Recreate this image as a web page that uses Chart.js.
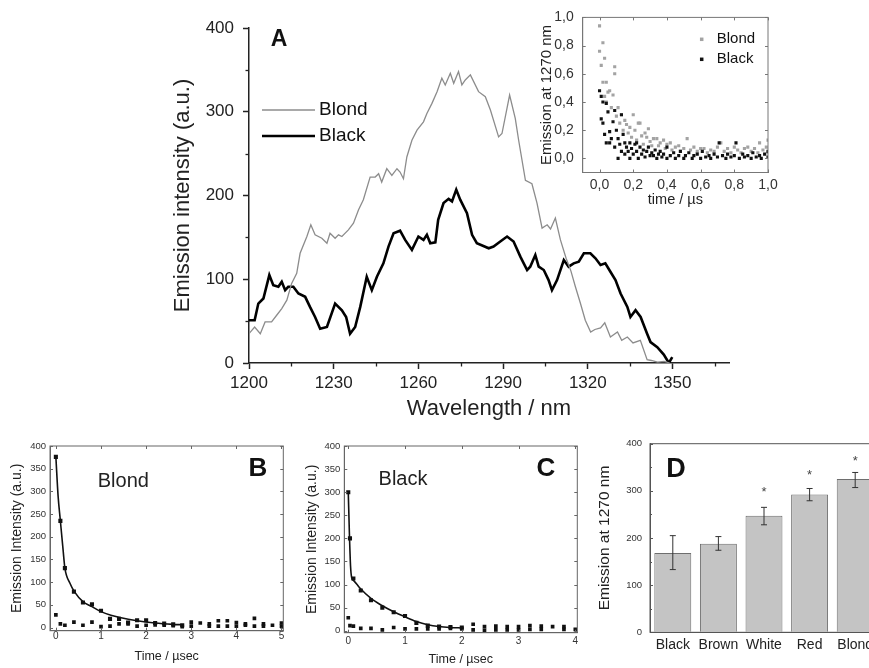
<!DOCTYPE html>
<html><head><meta charset="utf-8">
<script src="https://cdn.jsdelivr.net/npm/chart.js@4.4.1/dist/chart.umd.min.js"></script>
<style>
html,body{margin:0;padding:0;background:#fff;}
body{width:869px;height:668px;overflow:hidden;position:relative;}
canvas{position:absolute;}
</style></head><body>
<canvas id="cA" width="620" height="430" style="left:140px;top:0px"></canvas>
<canvas id="cIn" width="270" height="210" style="left:520px;top:0px"></canvas>
<canvas id="cB" width="300" height="238" style="left:0px;top:430px"></canvas>
<canvas id="cC" width="300" height="238" style="left:295px;top:430px"></canvas>
<canvas id="cD" width="300" height="238" style="left:585px;top:430px"></canvas>
<script>
// ---------- DATA ----------
// Panel A: emission spectra [wavelength nm, intensity a.u.]
const blondSpectrum = [[1200,35],[1202,43],[1204,35],[1205.7,49],[1208,49],[1209.8,57],[1211.6,65],[1213.4,75],[1215.1,95],[1216.9,107],[1218.1,131],[1220.5,151],[1221.9,165],[1223.4,153],[1225.8,149],[1227.6,143],[1228.7,155],[1230.5,149],[1231.7,153],[1232.9,151],[1235.2,159],[1237,167],[1238.8,183],[1240.5,195],[1242.9,222],[1244.7,222],[1245.9,226],[1247,216],[1248.8,232],[1250.6,224],[1252.4,232],[1253.5,228],[1254.7,220],[1255.9,246],[1257.7,266],[1259.5,278],[1261.8,288],[1263,298],[1264.8,310],[1266.6,324],[1268.3,340],[1269.5,332],[1271.3,346],[1272.5,334],[1274.2,348],[1275.4,332],[1276.6,338],[1278.4,344],[1281.3,324],[1283.7,318],[1285.5,302],[1288.4,270],[1289.6,274],[1292.3,320],[1294.3,292],[1295.5,266],[1297.9,218],[1300.2,214],[1302,191],[1303.8,161],[1305.6,165],[1306.8,160],[1308.5,173],[1310.3,147],[1312.3,125],[1314,110],[1315.6,91],[1317.4,71],[1319.1,51],[1321,37],[1322.5,40],[1324.5,42],[1326,48],[1328,31],[1330.5,37],[1332,27],[1334,31],[1336,24],[1338.6,27],[1341,4],[1342.5,3],[1344.7,1],[1347,2],[1349,0]];
const blackSpectrum = [[1200,51],[1202,51],[1203.3,71],[1205.1,77],[1207.2,105],[1208.6,93],[1210.4,91],[1211.6,97],[1212.8,87],[1213.9,91],[1215.7,91],[1217.5,83],[1219.9,79],[1221.6,67],[1223.4,55],[1225.2,41],[1227.6,43],[1230.5,71],[1232.9,63],[1234.4,55],[1235.8,35],[1237.6,43],[1239.4,67],[1241.7,103],[1243.5,87],[1245.3,103],[1247.6,119],[1249.4,139],[1251.2,155],[1253.5,158],[1255.3,147],[1257.7,135],[1260,151],[1261.8,147],[1263,153],[1264.2,143],[1266,144],[1267,171],[1268.9,191],[1270.7,196],[1271.9,193],[1273.4,207],[1274.8,195],[1277.2,179],[1279,153],[1280.7,143],[1284.9,137],[1286.6,139],[1289,145],[1291.4,151],[1293.7,145],[1296.1,127],[1297.3,119],[1298.5,111],[1299.6,115],[1301.4,129],[1302.6,115],[1304.4,111],[1306.1,99],[1307.3,87],[1309.1,99],[1311.5,123],[1313.2,115],[1315,119],[1316.8,121],[1318.6,131],[1320.9,131],[1322.7,125],[1324.5,117],[1326.2,119],[1328,109],[1329.8,99],[1331.6,83],[1334,67],[1335.1,55],[1336.9,63],[1338.7,55],[1341,35],[1342.2,25],[1344.6,19],[1346.9,10],[1348.7,0],[1349.9,7]];
const aXTicks = [1200,1230,1260,1290,1320,1350];
const aXMinor = [1215,1245,1275,1305,1335,1365];
const aYTicks = [0,100,200,300,400];
const aYMinor = [50,150,250,350];

// Inset: normalized emission at 1270 nm vs time (µs)
const insetBlond = [[0,0.94],[0,0.76],[0.01,0.66],[0.02,0.82],[0.02,0.54],[0.03,0.71],[0.03,0.44],[0.04,0.54],[0.04,0.40],[0.05,0.47],[0.06,0.48],[0.07,0.36],[0.08,0.45],[0.09,0.65],[0.09,0.60],[0.10,0.30],[0.11,0.36],[0.12,0.25],[0.13,0.31],[0.14,0.20],[0.15,0.27],[0.16,0.24],[0.17,0.18],[0.18,0.22],[0.19,0.15],[0.20,0.31],[0.21,0.20],[0.22,0.13],[0.23,0.25],[0.24,0.25],[0.25,0.16],[0.26,0.10],[0.27,0.18],[0.28,0.15],[0.29,0.21],[0.30,0.12],[0.31,0.09],[0.32,0.14],[0.34,0.14],[0.35,0.09],[0.36,0.11],[0.38,0.13],[0.39,0.07],[0.40,0.10],[0.42,0.11],[0.43,0.06],[0.45,0.08],[0.47,0.09],[0.48,0.05],[0.50,0.07],[0.52,0.14],[0.54,0.06],[0.56,0.08],[0.58,0.05],[0.60,0.07],[0.62,0.07],[0.64,0.04],[0.66,0.06],[0.68,0.05],[0.70,0.08],[0.72,0.11],[0.74,0.05],[0.76,0.07],[0.78,0.04],[0.80,0.08],[0.82,0.06],[0.84,0.04],[0.86,0.07],[0.88,0.08],[0.90,0.05],[0.92,0.07],[0.94,0.04],[0.95,0.11],[0.97,0.06],[0.99,0.08],[1.00,0.13],[1.00,0.04]];
const insetBlack = [[0,0.48],[0.01,0.44],[0.01,0.28],[0.02,0.25],[0.02,0.40],[0.03,0.17],[0.04,0.39],[0.04,0.11],[0.05,0.33],[0.06,0.19],[0.06,0.11],[0.07,0.14],[0.08,0.26],[0.09,0.34],[0.09,0.08],[0.10,0.20],[0.11,0.14],[0.11,0],[0.12,0.10],[0.13,0.31],[0.13,0.05],[0.14,0.17],[0.15,0.11],[0.15,0.03],[0.16,0.08],[0.17,0.05],[0.18,0],[0.18,0.11],[0.19,0.07],[0.20,0.03],[0.21,0.10],[0.22,0.11],[0.22,0.05],[0.23,0],[0.24,0.08],[0.25,0.03],[0.26,0.06],[0.27,0.01],[0.28,0.05],[0.29,0.08],[0.30,0.02],[0.31,0.04],[0.32,0.02],[0.33,0.06],[0.34,0],[0.35,0.03],[0.36,0.05],[0.37,0.01],[0.38,0.03],[0.40,0.08],[0.40,0],[0.42,0.02],[0.44,0.04],[0.45,0],[0.47,0.02],[0.48,0.05],[0.50,0],[0.51,0.02],[0.53,0.04],[0.55,0],[0.56,0.02],[0.58,0.03],[0.60,0],[0.61,0.05],[0.63,0.01],[0.65,0.02],[0.66,0],[0.68,0.03],[0.70,0.01],[0.71,0.11],[0.73,0.02],[0.75,0],[0.76,0.03],[0.78,0.01],[0.80,0.02],[0.81,0.11],[0.83,0],[0.85,0.03],[0.86,0.01],[0.88,0.02],[0.90,0],[0.91,0.04],[0.93,0.01],[0.95,0.02],[0.96,0],[0.98,0.03],[1.00,0.01],[1.00,0.05]];
const insetTicks = [0,0.2,0.4,0.6,0.8,1.0];

// Panel B: Blond decay (time µs, intensity)
const bDecay = [[0,376],[0.1,235],[0.2,131],[0.4,79],[0.6,55],[0.8,51],[1.0,37],[1.2,19],[1.4,19],[1.6,11],[1.8,16],[2.0,16],[2.2,10],[2.4,9],[2.6,7],[2.8,5]];
const bFit = [[0,376],[0.05,289],[0.1,235],[0.16,171],[0.2,131],[0.31,98],[0.41,79],[0.6,57],[0.8,46],[1.0,35],[1.22,27],[1.42,22],[1.8,15],[2.2,10],[2.6,7],[2.8,6]];
const bBackground = [[0,28],[0.1,8],[0.2,5],[0.4,12],[0.6,5],[0.8,12],[1.0,2],[1.2,3],[1.4,8],[1.6,8],[1.8,3],[2.0,5],[2.2,6],[2.4,5],[2.6,4],[2.8,2],[3.0,12],[3.0,3],[3.2,10],[3.4,8],[3.4,3],[3.6,15],[3.6,3],[3.8,15],[3.8,3],[4.0,11],[4.0,3],[4.2,8],[4.2,5],[4.4,20],[4.4,3],[4.6,8],[4.6,3],[4.8,5],[5.0,10],[5.0,3]];
const bXTicks = [0,1,2,3,4,5];
// Panel C: Black decay
const cDecay = [[0,300],[0.03,200],[0.09,113],[0.22,87],[0.4,66],[0.6,50],[0.8,40],[1.0,32],[1.2,17],[1.4,11],[1.6,9],[1.8,8],[2.0,7]];
const cFit = [[0,300],[0.02,210],[0.04,140],[0.06,115],[0.1,108],[0.2,93],[0.4,70],[0.6,54],[0.8,41],[1.0,30],[1.2,20],[1.4,13],[1.6,9],[1.8,7],[2.0,6]];
const cBackground = [[0,28],[0.03,11],[0.09,10],[0.22,5],[0.4,5],[0.6,2],[0.8,7],[1.0,4],[1.2,4],[1.4,4],[1.6,4],[1.8,5],[2.0,4],[2.2,14],[2.2,2],[2.4,9],[2.4,1],[2.6,10],[2.6,2],[2.8,9],[2.8,2],[3.0,9],[3.0,2],[3.2,11],[3.2,3],[3.4,10],[3.4,3],[3.6,9],[3.8,9],[3.8,3],[4.0,3]];
const cXTicks = [0,1,2,3,4];
const decayYTicks = [0,50,100,150,200,250,300,350,400];
// Panel D: emission at 1270 nm per hair colour
const hairColours = ['Black','Brown','White','Red','Blond'];
const emission1270 = [168,188,247,292,325];
const errLow = [133,174,228,279,307];
const errHigh = [205,203,265,305,339];
const starLevel = [null,null,304,339,369];
const dYTicks = [0,100,200,300,400];
const dYMinor = [50,150,250,350];

// ---------- HELPERS ----------
const FONT = "'Liberation Sans', Arial, Helvetica, sans-serif";
Chart.defaults.font.family = FONT;
Chart.defaults.color = '#222';
Chart.defaults.animation = false;
Chart.defaults.responsive = false;
Chart.defaults.devicePixelRatio = 1;
Chart.defaults.plugins.legend.display = false;
Chart.defaults.plugins.tooltip.enabled = false;

const pts = arr => arr.map(p => ({x: p[0], y: p[1]}));
const fixTicks = vals => s => { s.ticks = vals.map(v => ({value: v})); };
const fixW = w => s => { s.width = w; };
const fixH = h => s => { s.height = h; };
const plain = v => String(v);
const comma = v => v.toFixed(1).replace('.', ',');

const decor = {
  id: 'decor',
  afterDatasetsDraw(chart, args, o) {
    const ctx = chart.ctx, a = chart.chartArea;
    ctx.save();
    if (o.box) {
      ctx.strokeStyle = o.box.color; ctx.lineWidth = o.box.width;
      ctx.strokeRect(a.left, a.top, a.right - a.left, a.bottom - a.top);
    }
    (o.ticks || []).forEach(t => {
      const s = chart.scales[t.axis];
      ctx.strokeStyle = t.color || '#222'; ctx.lineWidth = t.width || 1;
      const sg = t.dir === 'in' ? 1 : -1;
      t.values.forEach(v => {
        const p = Math.round(s.getPixelForValue(v)) + 0.5;
        ctx.beginPath();
        if (t.side === 'bottom') { ctx.moveTo(p, a.bottom); ctx.lineTo(p, a.bottom - sg * t.len); }
        else if (t.side === 'top') { ctx.moveTo(p, a.top); ctx.lineTo(p, a.top + sg * t.len); }
        else if (t.side === 'left') { ctx.moveTo(a.left, p); ctx.lineTo(a.left + sg * t.len, p); }
        else { ctx.moveTo(a.right, p); ctx.lineTo(a.right - sg * t.len, p); }
        ctx.stroke();
      });
    });
    if (o.errors) {
      const meta = chart.getDatasetMeta(0), ys = chart.scales.y, e = o.errors;
      ctx.strokeStyle = '#333'; ctx.lineWidth = 1;
      e.low.forEach((lo, i) => {
        const x = meta.data[i].x, y1 = ys.getPixelForValue(lo), y2 = ys.getPixelForValue(e.high[i]);
        ctx.beginPath();
        ctx.moveTo(x, y1); ctx.lineTo(x, y2);
        ctx.moveTo(x - 3, y1); ctx.lineTo(x + 3, y1);
        ctx.moveTo(x - 3, y2); ctx.lineTo(x + 3, y2);
        ctx.stroke();
        if (e.stars[i] != null) {
          ctx.fillStyle = '#444'; ctx.font = '13px ' + FONT; ctx.textAlign = 'center'; ctx.textBaseline = 'middle';
          ctx.fillText('*', x, ys.getPixelForValue(e.stars[i]) + 3);
        }
      });
    }
    if (o.legend) {
      const L = o.legend;
      chart.data.datasets.forEach((ds, i) => {
        const y = L.y + i * L.gap;
        if (L.type === 'line') {
          ctx.strokeStyle = ds.borderColor; ctx.lineWidth = ds.borderWidth;
          ctx.beginPath(); ctx.moveTo(L.x, y); ctx.lineTo(L.x + L.len, y); ctx.stroke();
        } else {
          ctx.fillStyle = ds.backgroundColor;
          ctx.fillRect(L.x - L.size / 2, y - L.size / 2, L.size, L.size);
        }
        ctx.fillStyle = '#111'; ctx.font = L.font; ctx.textAlign = 'left'; ctx.textBaseline = 'middle';
        ctx.fillText(ds.label, L.x + L.len + L.pad, y);
      });
    }
    (o.texts || []).forEach(t => {
      ctx.font = t.font; ctx.fillStyle = t.color || '#111';
      ctx.textAlign = 'center'; ctx.textBaseline = 'middle';
      ctx.fillText(t.text, t.x, t.y);
    });
    ctx.restore();
  }
};
Chart.register(decor);

const noGrid = {display: true, drawOnChartArea: false, drawTicks: false};

// ---------- PANEL A ----------
new Chart(document.getElementById('cA'), {
  type: 'scatter',
  data: { datasets: [
    {label: 'Blond', data: pts(blondSpectrum), showLine: true, borderColor: '#8c8c8c', borderWidth: 1.3, pointRadius: 0},
    {label: 'Black', data: pts(blackSpectrum), showLine: true, borderColor: '#000', borderWidth: 2.6, pointRadius: 0}
  ]},
  options: {
    layout: {padding: {left: 0, right: 31, top: 28, bottom: 0}},
    scales: {
      x: {type: 'linear', min: 1200, max: 1370, bounds: 'data', afterBuildTicks: fixTicks(aXTicks), afterFit: fixH(67),
          ticks: {font: {size: 17}, padding: 4, color: '#222', callback: plain, autoSkip: false, maxRotation: 0},
          grid: {display: true, drawOnChartArea: false, drawTicks: true, tickLength: 6, tickColor: '#222', tickWidth: 1.5},
          border: {display: true, color: '#222', width: 1.5},
          title: {display: true, text: 'Wavelength / nm', font: {size: 22}, color: '#222', padding: {top: 0, bottom: 8}}},
      y: {min: 0, max: 400, bounds: 'data', afterBuildTicks: fixTicks(aYTicks), afterFit: fixW(109),
          ticks: {font: {size: 17}, padding: 9, color: '#222', callback: plain, autoSkip: false},
          grid: {display: true, drawOnChartArea: false, drawTicks: true, tickLength: 6, tickColor: '#222', tickWidth: 1.5},
          border: {display: true, color: '#222', width: 1.5},
          title: {display: true, text: 'Emission intensity (a.u.)', font: {size: 22}, color: '#222', padding: {top: 30, bottom: 0}}}
    },
    plugins: { decor: {
      ticks: [
        {axis: 'x', side: 'bottom', dir: 'out', len: 3.5, width: 1.3, values: aXMinor},
        {axis: 'y', side: 'left', dir: 'out', len: 3.5, width: 1.3, values: aYMinor}
      ],
      legend: {type: 'line', x: 122, y: 110, gap: 26, len: 53, pad: 4, font: '19px ' + FONT},
      texts: [{text: 'A', x: 139, y: 40, font: 'bold 23px ' + FONT, color: '#111'}]
    }}
  }
});

// ---------- INSET ----------
new Chart(document.getElementById('cIn'), {
  type: 'scatter',
  data: { datasets: [
    {label: 'Blond', data: pts(insetBlond), pointStyle: 'rect', pointRadius: 2.2, backgroundColor: '#a3a3a3', borderWidth: 0, order: 1},
    {label: 'Black', data: pts(insetBlack), pointStyle: 'rect', pointRadius: 2.2, backgroundColor: '#111', borderWidth: 0, order: 0}
  ]},
  options: {
    layout: {padding: {left: 0, right: 22, top: 16.7, bottom: 0}},
    scales: {
      x: {type: 'linear', min: -0.1, max: 1.0, bounds: 'data', afterBuildTicks: fixTicks(insetTicks), afterFit: fixH(37.5),
          ticks: {font: {size: 14}, padding: 4, color: '#333', callback: comma, autoSkip: false, maxRotation: 0},
          grid: noGrid, border: {display: true, color: '#777', width: 1},
          title: {display: true, text: 'time / µs', font: {size: 14.5}, color: '#222', padding: {top: 0, bottom: 1}}},
      y: {min: -0.1, max: 1.0, bounds: 'data', afterBuildTicks: fixTicks(insetTicks), afterFit: fixW(62.7),
          ticks: {font: {size: 14}, padding: 9, color: '#333', callback: comma, autoSkip: false},
          grid: noGrid, border: {display: true, color: '#777', width: 1},
          title: {display: true, text: 'Emission at 1270 nm', font: {size: 15}, color: '#222', padding: {top: 17.7, bottom: 0}}}
    },
    plugins: { decor: {
      box: {color: '#777', width: 1},
      ticks: [
        {axis: 'x', side: 'bottom', dir: 'in', len: 3, color: '#777', values: insetTicks},
        {axis: 'x', side: 'top', dir: 'in', len: 3, color: '#777', values: insetTicks},
        {axis: 'y', side: 'left', dir: 'in', len: 3, color: '#777', values: insetTicks},
        {axis: 'y', side: 'right', dir: 'in', len: 3, color: '#777', values: insetTicks}
      ],
      legend: {type: 'point', x: 181.7, y: 39.3, gap: 20, len: 0, size: 3.5, pad: 15, font: '15px ' + FONT}
    }}
  }
});

// ---------- PANELS B & C ----------
function decayChart(id, fit, meas, bg, xmin, xmax, xticks, ymin, area, title, letter) {
  return new Chart(document.getElementById(id), {
    type: 'scatter',
    data: { datasets: [
      {label: 'fit', data: pts(fit), showLine: true, cubicInterpolationMode: 'monotone', borderColor: '#111', borderWidth: 1.6, pointRadius: 0},
      {label: 'decay', data: pts(meas), pointStyle: 'rect', pointRadius: 2.9, backgroundColor: '#111', borderWidth: 0},
      {label: 'background', data: pts(bg), pointStyle: 'rect', pointRadius: 2.6, backgroundColor: '#111', borderWidth: 0}
    ]},
    options: {
      layout: {padding: {left: 0, right: area.right, top: area.top, bottom: 0}},
      scales: {
        x: {type: 'linear', min: xmin, max: xmax, bounds: 'data', afterBuildTicks: fixTicks(xticks), afterFit: fixH(area.xh),
            ticks: {font: {size: 10}, padding: area.xpad, color: '#333', callback: plain, autoSkip: false, maxRotation: 0},
            grid: noGrid, border: {display: true, color: '#666', width: 1},
            title: {display: true, text: 'Time / µsec', font: {size: 12.5}, color: '#222', padding: {top: 0, bottom: area.tpad}}},
        y: {min: ymin, max: 400, bounds: 'data', afterBuildTicks: fixTicks(decayYTicks), afterFit: fixW(area.yw),
            ticks: {font: {size: 9.5}, padding: 4, color: '#333', callback: plain, autoSkip: false},
            grid: noGrid, border: {display: true, color: '#666', width: 1},
            title: {display: true, text: 'Emission Intensity (a.u.)', font: {size: 14}, color: '#222', padding: {top: 9, bottom: 0}}}
      },
      plugins: { decor: {
        box: {color: '#666', width: 1},
        ticks: [
          {axis: 'x', side: 'bottom', dir: 'in', len: 3, color: '#666', values: xticks},
          {axis: 'x', side: 'top', dir: 'in', len: 3, color: '#666', values: xticks},
          {axis: 'y', side: 'left', dir: 'in', len: 3, color: '#666', values: decayYTicks},
          {axis: 'y', side: 'right', dir: 'in', len: 3, color: '#666', values: decayYTicks}
        ],
        texts: [
          {text: title, x: area.tx, y: area.ty, font: '20px ' + FONT, color: '#222'},
          {text: letter, x: area.lx, y: area.ly, font: 'bold 26px ' + FONT, color: '#111'}
        ]
      }}
    }
  });
}
decayChart('cB', bFit, bDecay, bBackground, -0.13, 5.04, bXTicks, -7,
  {right: 16.7, top: 16, xh: 37.3, yw: 50, xpad: 0, tpad: 3.8, tx: 123.3, ty: 51.7, lx: 258, ly: 39}, 'Blond', 'B');
decayChart('cC', cFit, cDecay, cBackground, -0.07, 4.035, cXTicks, -4.3,
  {right: 17.7, top: 16, xh: 35.3, yw: 49.3, xpad: 3, tpad: 1, tx: 108, ty: 49.5, lx: 251, ly: 38.5}, 'Black', 'C');

// ---------- PANEL D ----------
new Chart(document.getElementById('cD'), {
  type: 'bar',
  data: { labels: hairColours, datasets: [
    {label: 'Emission at 1270 nm', data: emission1270, backgroundColor: '#c4c4c4', borderColor: '#6e6e6e', borderWidth: 1,
     categoryPercentage: 1, barPercentage: 0.81}
  ]},
  options: {
    layout: {padding: {left: 0, right: 7, top: 12.7, bottom: 0}},
    scales: {
      x: {afterFit: fixH(35.7),
          ticks: {font: {size: 14}, padding: 4.3, color: '#222', autoSkip: false, maxRotation: 0},
          grid: noGrid, border: {display: true, color: '#555', width: 1}},
      y: {min: 0, max: 400, bounds: 'data', afterBuildTicks: fixTicks(dYTicks), afterFit: fixW(65),
          ticks: {font: {size: 9.5}, padding: 8, color: '#333', callback: plain, autoSkip: false},
          grid: noGrid, border: {display: true, color: '#555', width: 1},
          title: {display: true, text: 'Emission at 1270 nm', font: {size: 15.5}, color: '#222', padding: {top: 10.7, bottom: 0}}}
    },
    plugins: { decor: {
      box: {color: '#555', width: 1},
      ticks: [
        {axis: 'y', side: 'left', dir: 'in', len: 3, color: '#555', values: dYTicks},
        {axis: 'y', side: 'left', dir: 'in', len: 2, color: '#555', values: dYMinor}
      ],
      errors: {low: errLow, high: errHigh, stars: starLevel},
      texts: [{text: 'D', x: 91, y: 40, font: 'bold 27px ' + FONT, color: '#111'}]
    }}
  }
});
</script></body></html>
